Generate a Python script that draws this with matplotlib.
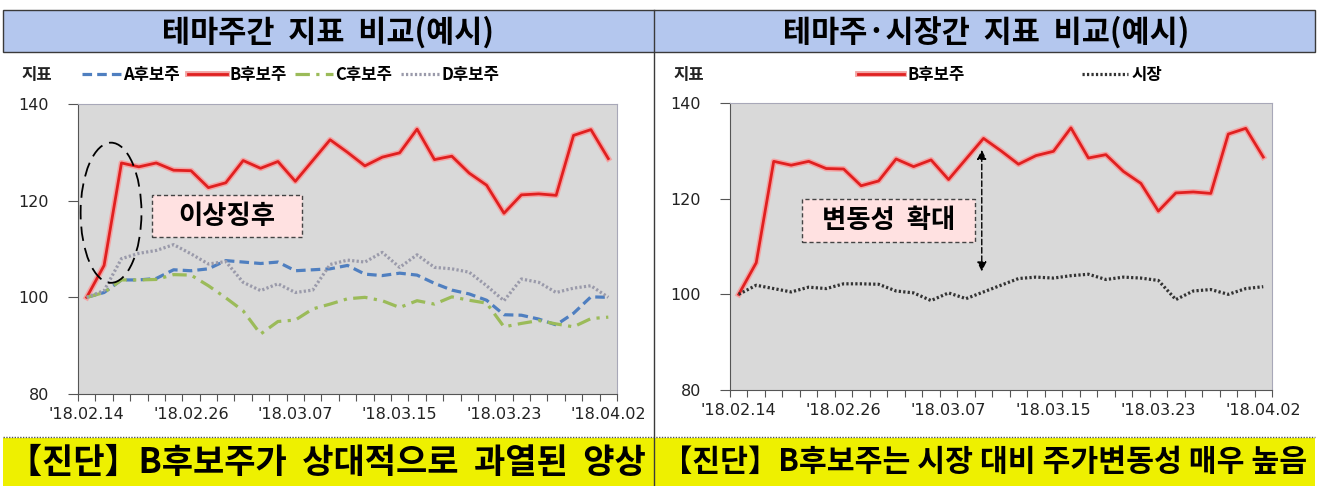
import numpy as np
import matplotlib
matplotlib.use("Agg")
import matplotlib.pyplot as plt
import matplotlib.patheffects as pe
from matplotlib.patches import Rectangle, Ellipse

plt.rcParams['font.family'] = ['Noto Sans CJK KR', 'DejaVu Sans']

# ---- data ----
dates = ["'18.02.14", "'18.02.19", "'18.02.20", "'18.02.21", "'18.02.22", "'18.02.23",
         "'18.02.26", "'18.02.27", "'18.02.28", "'18.03.02", "'18.03.05", "'18.03.06",
         "'18.03.07", "'18.03.08", "'18.03.09", "'18.03.12", "'18.03.13", "'18.03.14",
         "'18.03.15", "'18.03.16", "'18.03.19", "'18.03.20", "'18.03.21", "'18.03.22",
         "'18.03.23", "'18.03.26", "'18.03.27", "'18.03.28", "'18.03.29", "'18.03.30",
         "'18.04.02"]

stock_a = [100, 101, 103.6, 103.6, 103.9, 105.7, 105.5, 105.9, 107.6, 107.3, 107.0,
           107.3, 105.5, 105.7, 105.9, 106.6, 104.8, 104.5, 105.0, 104.6, 102.9, 101.5,
           100.7, 99.4, 96.4, 96.3, 95.5, 94.3, 96.7, 100.1, 100.0]
stock_b = [100, 106.6, 127.8, 127.0, 127.8, 126.3, 126.2, 122.7, 123.7, 128.3, 126.7,
           128.1, 124.0, 128.3, 132.6, 130.0, 127.2, 129.0, 129.9, 134.8, 128.5, 129.2,
           125.7, 123.2, 117.4, 121.2, 121.4, 121.1, 133.5, 134.7, 128.7]
stock_c = [100, 101, 103.6, 103.6, 103.7, 104.7, 104.6, 102.4, 99.9, 97.2, 92.4, 95.0,
           95.3, 97.6, 98.6, 99.7, 100.0, 99.3, 97.9, 99.3, 98.6, 100.1, 99.4, 98.8,
           93.9, 94.6, 95.2, 94.5, 93.9, 95.6, 95.9]
stock_d = [100, 101.4, 108.0, 109.1, 109.7, 110.9, 109.0, 106.9, 107.4, 103.1, 101.4,
           102.8, 101.0, 101.5, 106.8, 107.7, 107.3, 109.3, 106.2, 108.8, 106.2, 105.9,
           105.2, 102.4, 99.3, 103.8, 103.1, 101.0, 101.9, 102.4, 100.0]
market = [100, 101.9, 101.2, 100.5, 101.5, 101.2, 102.2, 102.2, 102.1, 100.7, 100.3,
          98.7, 100.3, 99.1, 100.5, 101.9, 103.3, 103.6, 103.4, 103.9, 104.2, 103.1,
          103.6, 103.4, 102.9, 98.9, 100.7, 101.0, 100.0, 101.2, 101.6]

label_idx = [0, 6, 12, 18, 24, 30]
yticks = [80, 100, 120, 140]

W, H = 1318, 486
fig = plt.figure(figsize=(W / 100, H / 100), dpi=100)
fig.patch.set_facecolor('white')

# background axes in pixel coordinates
bg = fig.add_axes([0, 0, 1, 1])
bg.set_xlim(0, W)
bg.set_ylim(H, 0)
bg.axis('off')
bg.add_patch(Rectangle((3, 10), W - 6, 42, facecolor='#B4C7EE', edgecolor='#3A3A3A', lw=1))
bg.add_patch(Rectangle((3, 438), W - 6, 48, facecolor='#EEF000', edgecolor='none'))
bg.plot([3, W - 3], [437, 437], color='#555555', lw=1, ls=(0, (1, 1)))
bg.plot([654, 654], [10, H], color='#3A3A3A', lw=1)

bg.text(328, 32, '테마주간  지표  비교(예시)', ha='center', va='center',
        fontsize=22, fontweight='black')
bg.text(986, 32, '테마주·시장간  지표  비교(예시)', ha='center', va='center',
        fontsize=22, fontweight='black')
bg.text(327, 462, '【진단】B후보주가  상대적으로  과열된  양상', ha='center', va='center',
        fontsize=24.5, fontweight='black')
bg.text(985, 462, '【진단】B후보주는 시장 대비 주가변동성 매우 높음', ha='center', va='center',
        fontsize=21.8, fontweight='black')
bg.text(21, 75, '지표', ha='left', va='center', fontsize=12, fontweight='bold', color='#222222')
bg.text(673, 75, '지표', ha='left', va='center', fontsize=12, fontweight='bold', color='#222222')

red_fx = [pe.Stroke(linewidth=4.2, foreground='#F3A5A5'), pe.Normal()]
x = np.arange(len(dates))


def style_axes(ax):
    ax.set_facecolor('#D9D9D9')
    ax.set_xlim(-0.5, len(dates) - 0.5)
    ax.set_ylim(80, 140)
    ax.set_yticks(yticks)
    ax.set_xticks(np.arange(-0.5, len(dates)), [''] * (len(dates) + 1))
    ax.set_xticks(label_idx, [dates[i] for i in label_idx], minor=True)
    ax.tick_params(axis='x', which='major', length=5, direction='out', color='#555555')
    ax.tick_params(axis='x', which='minor', length=0, pad=9, labelsize=11.5,
                   labelcolor='#222222')
    ax.tick_params(axis='y', length=7, direction='out', pad=14, labelsize=11.5,
                   labelcolor='#222222', color='#555555')
    for lab in ax.get_xticklabels(minor=True) + ax.get_yticklabels():
        lab.set_fontfamily('DejaVu Sans')
    for s in ['top', 'right']:
        ax.spines[s].set_color('#A8A8B8')
    for s in ['left', 'bottom']:
        ax.spines[s].set_color('#555555')


# ---- left chart ----
ax1 = fig.add_axes([78 / W, (H - 394) / H, 539 / W, 290 / H])
style_axes(ax1)
ax1.plot(x, stock_a, color='#4F7FC0', lw=2.3, dashes=(3, 1.6), label='A후보주')
ax1.plot(x, stock_b, color='#E02020', lw=2.0, path_effects=red_fx, label='B후보주')
ax1.plot(x, stock_c, color='#9BBB59', lw=2.3, dashes=(4.5, 2, 1, 2), label='C후보주')
ax1.plot(x, stock_d, color='#9A9AAA', lw=2.3, dashes=(0.7, 0.7), label='D후보주')
ax1.legend(loc='center', bbox_to_anchor=(291 / W, 1 - 75 / H), bbox_transform=fig.transFigure,
           ncol=4, frameon=False, handlelength=2.3, handletextpad=0.15, columnspacing=0.5,
           prop={'weight': 'bold', 'size': 12})

ax1.add_patch(Ellipse((1.4, 117.5), 3.5, 29, angle=0, fill=False, edgecolor='black',
                      lw=1.3, ls=(0, (8, 4)), zorder=5))
ax1.add_patch(Rectangle((0.137, 0.541), 0.279, 0.145, transform=ax1.transAxes,
                        facecolor='#FFE1E1', edgecolor='#444444', lw=1, ls=(0, (3, 2)),
                        zorder=6))
ax1.text(0.2765, 0.6135, '이상징후', transform=ax1.transAxes, ha='center', va='center',
         fontsize=19, fontweight='bold', zorder=7)

# ---- right chart ----
ax2 = fig.add_axes([730 / W, (H - 390) / H, 542 / W, 287 / H])
style_axes(ax2)
ax2.plot(x, stock_b, color='#E02020', lw=2.0, path_effects=red_fx, label='B후보주')
ax2.plot(x, market, color='#333333', lw=2.3, dashes=(0.7, 0.7), label='시장')
ax2.legend(loc='center', bbox_to_anchor=(1010 / W, 1 - 75 / H), bbox_transform=fig.transFigure,
           ncol=2, frameon=False, handlelength=2.8, handletextpad=0.2, columnspacing=7.0,
           prop={'weight': 'bold', 'size': 12})

ax2.add_patch(Rectangle((0.133, 0.516), 0.319, 0.150, transform=ax2.transAxes,
                        facecolor='#FFE1E1', edgecolor='#444444', lw=1, ls=(0, (3, 2)),
                        zorder=6))
ax2.text(0.2925, 0.591, '변동성  확대', transform=ax2.transAxes, ha='center', va='center',
         fontsize=19, fontweight='bold', zorder=7)
ax2.annotate('', xy=(13.9, 130.2), xytext=(13.9, 104.8),
             arrowprops=dict(arrowstyle='<|-|>', color='black', lw=1, ls=(0, (4, 2)),
                             mutation_scale=14, shrinkA=0, shrinkB=0), zorder=7)

fig.savefig('out.png', dpi=100)
